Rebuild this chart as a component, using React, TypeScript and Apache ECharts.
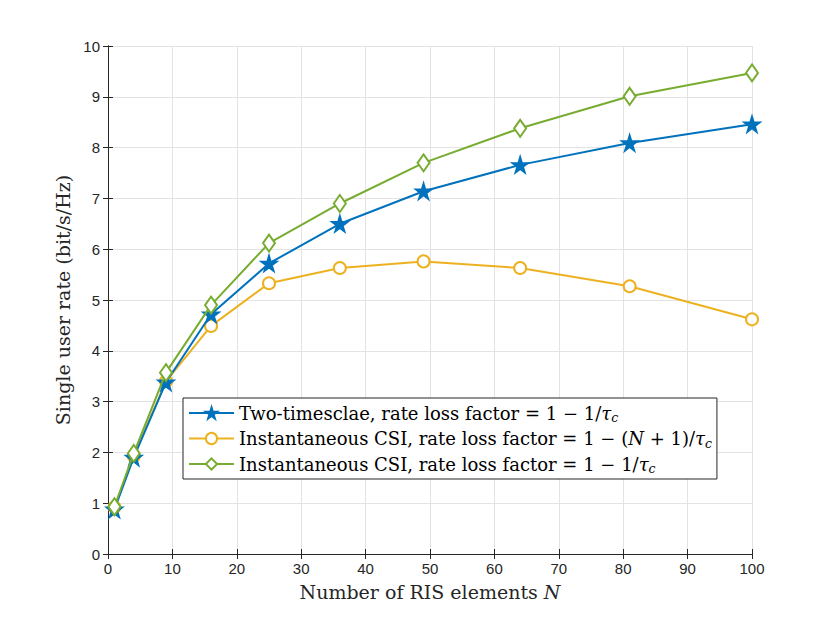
import React, { useEffect, useRef } from "react";
import * as echarts from "echarts";

const nValues = [1, 4, 9, 16, 25, 36, 49, 64, 81, 100];
const twoTimescale = [0.88, 1.9, 3.38, 4.72, 5.72, 6.5, 7.14, 7.66, 8.09, 8.46];
const instCsiN = [0.92, 1.93, 3.4, 4.49, 5.33, 5.63, 5.76, 5.63, 5.27, 4.62];
const instCsi1 = [0.93, 1.98, 3.57, 4.9, 6.12, 6.9, 7.7, 8.38, 9.01, 9.47];
const seriesNames = [
  "Two-timesclae, rate loss factor = 1 − 1/τc",
  "Instantaneous CSI, rate loss factor = 1 − (N + 1)/τc",
  "Instantaneous CSI, rate loss factor = 1 − 1/τc ",
];
const legendTexts = [
  "Two-timesclae, rate loss factor = 1 − 1/{i|τ}{s|c}",
  "Instantaneous CSI, rate loss factor = 1 − ({i|N} + 1)/{i|τ}{s|c}",
  "Instantaneous CSI, rate loss factor = 1 − 1/{i|τ}{s|c}",
];

const STAR = "path://M50,0 L61,35 L98,35 L68,57 L79,91 L50,70 L21,91 L32,57 L2,35 L39,35 Z";
const serif = "'DejaVu Serif', 'Liberation Serif', serif";
const sans = "'Liberation Sans', Arial, sans-serif";
const axisColor = "#262626";

export default function App() {
  const ref = useRef<HTMLDivElement>(null);
  useEffect(() => {
    if (!ref.current) return;
    const chart = echarts.init(ref.current, undefined, { renderer: "svg" });
    const pair = (ys: number[]) => nValues.map((n, i) => [n, ys[i]]);
    const mkSeries = (name: string, ys: number[], color: string, symbol: string, size: any, z: number) => ({
      name,
      type: "line",
      data: pair(ys),
      symbol,
      symbolSize: size,
      showSymbol: true,
      z,
      lineStyle: { color, width: 2 },
      itemStyle: { color, borderColor: color, borderWidth: 2 },
    });
    const nameMap: Record<string, string> = {};
    seriesNames.forEach((n, i) => (nameMap[n] = legendTexts[i]));
    const axisCommon = {
      axisLine: { show: true, lineStyle: { color: axisColor, width: 1 } },
      axisTick: { show: true, inside: true, length: 5, lineStyle: { color: axisColor } },
    };
    chart.setOption({
      animation: false,
      backgroundColor: "#ffffff",
      grid: { left: 108, right: 78, top: 46, bottom: 69, containLabel: false },
      xAxis: [
        {
          type: "value",
          min: 0,
          max: 100,
          interval: 10,
          position: "bottom",
          ...axisCommon,
          axisLabel: { color: axisColor, fontFamily: sans, fontSize: 15, margin: 7 },
          splitLine: { show: true, lineStyle: { color: "#e3e3e3", width: 1 } },
          name: "Number of RIS elements {i|N}",
          nameLocation: "middle",
          nameGap: 28,
          nameTextStyle: {
            color: axisColor,
            fontFamily: serif,
            fontSize: 19,
            rich: { i: { fontStyle: "italic", fontFamily: serif, fontSize: 19, color: axisColor } },
          },
        },
        {
          type: "value",
          min: 0,
          max: 100,
          interval: 10,
          position: "top",
          ...axisCommon,
          axisLabel: { show: false },
          splitLine: { show: false },
        },
      ],
      yAxis: [
        {
          type: "value",
          min: 0,
          max: 10,
          interval: 1,
          position: "left",
          ...axisCommon,
          axisLabel: { color: axisColor, fontFamily: sans, fontSize: 15, margin: 8 },
          splitLine: { show: true, lineStyle: { color: "#e3e3e3", width: 1 } },
          name: "Single user rate (bit/s/Hz)",
          nameLocation: "middle",
          nameGap: 34,
          nameTextStyle: { color: axisColor, fontFamily: serif, fontSize: 19 },
        },
        {
          type: "value",
          min: 0,
          max: 10,
          interval: 1,
          position: "right",
          ...axisCommon,
          axisLabel: { show: false },
          splitLine: { show: false },
        },
      ],
      legend: {
        orient: "vertical",
        left: 183,
        top: 398,
        backgroundColor: "#ffffff",
        borderColor: axisColor,
        borderWidth: 1,
        borderRadius: 0,
        padding: [4, 5, 4, 5],
        itemGap: 3.5,
        itemWidth: 45,
        itemHeight: 14,
        data: seriesNames,
        formatter: (name: string) => nameMap[name] || name,
        textStyle: {
          color: "#000",
          fontFamily: serif,
          fontSize: 18,
          lineHeight: 22,
          rich: {
            i: { fontStyle: "italic", fontFamily: serif, fontSize: 18, lineHeight: 22, color: "#000" },
            s: { fontStyle: "italic", fontFamily: serif, fontSize: 12.5, lineHeight: 22, color: "#000", verticalAlign: "bottom", padding: [6, 0, 0, 0] },
          },
        },
      },
      series: [
        mkSeries(seriesNames[0], twoTimescale, "#0072BD", STAR, 15, 3),
        mkSeries(seriesNames[1], instCsiN, "#EDB120", "emptyCircle", 12, 2),
        mkSeries(seriesNames[2], instCsi1, "#77AC30", "emptyDiamond", [12, 17], 4),
      ],
    });
    return () => chart.dispose();
  }, []);
  return <div ref={ref} style={{ position: "fixed", left: 0, top: 0, width: 830, height: 623 }} />;
}
